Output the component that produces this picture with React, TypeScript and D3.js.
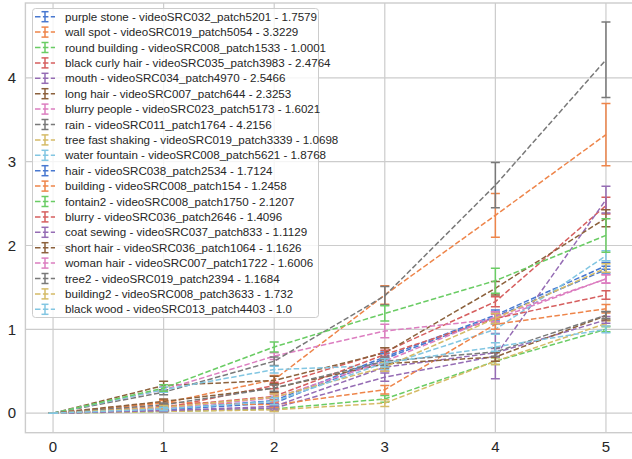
import React from "react";
import * as d3 from "d3";

const xValues = [0, 1, 2, 3, 4, 5];
const xTicks = [0, 1, 2, 3, 4, 5];
const yTicks = [0, 1, 2, 3, 4];

const labels = [
  "purple stone - videoSRC032_patch5201 - 1.7579",
  "wall spot - videoSRC019_patch5054 - 3.3229",
  "round building - videoSRC008_patch1533 - 1.0001",
  "black curly hair - videoSRC035_patch3983 - 2.4764",
  "mouth - videoSRC034_patch4970 - 2.5466",
  "long hair - videoSRC007_patch644 - 2.3253",
  "blurry people - videoSRC023_patch5173 - 1.6021",
  "rain - videoSRC011_patch1764 - 4.2156",
  "tree fast shaking - videoSRC019_patch3339 - 1.0698",
  "water fountain - videoSRC008_patch5621 - 1.8768",
  "hair - videoSRC038_patch2534 - 1.7124",
  "building - videoSRC008_patch154 - 1.2458",
  "fontain2 - videoSRC008_patch1750 - 2.1207",
  "blurry - videoSRC036_patch2646 - 1.4096",
  "coat sewing - videoSRC037_patch833 - 1.1129",
  "short hair - videoSRC036_patch1064 - 1.1626",
  "woman hair - videoSRC007_patch1722 - 1.6006",
  "tree2 - videoSRC019_patch2394 - 1.1684",
  "building2 - videoSRC008_patch3633 - 1.732",
  "black wood - videoSRC013_patch4403 - 1.0",
];

const means = [
  [0, 0.05, 0.15, 0.67, 1.17, 1.7579],
  [0, 0.12, 0.4, 1.41, 2.36, 3.3229],
  [0, 0.02, 0.05, 0.17, 0.62, 1.0001],
  [0, 0.06, 0.33, 0.73, 1.33, 2.4764],
  [0, 0.03, 0.06, 0.43, 0.68, 2.5466],
  [0, 0.33, 0.39, 0.72, 1.49, 2.3253],
  [0, 0.28, 0.68, 0.98, 1.12, 1.6021],
  [0, 0.25, 0.62, 1.4, 2.72, 4.2156],
  [0, 0.02, 0.04, 0.12, 0.62, 1.0698],
  [0, 0.28, 0.52, 0.57, 1.0, 1.8768],
  [0, 0.04, 0.12, 0.65, 1.15, 1.7124],
  [0, 0.13, 0.1, 0.28, 1.06, 1.2458],
  [0, 0.3, 0.79, 1.19, 1.58, 2.1207],
  [0, 0.08, 0.2, 0.7, 1.13, 1.4096],
  [0, 0.03, 0.08, 0.55, 0.72, 1.1129],
  [0, 0.14, 0.3, 0.59, 0.67, 1.1626],
  [0, 0.06, 0.18, 0.62, 1.15, 1.6006],
  [0, 0.1, 0.3, 0.62, 0.73, 1.1684],
  [0, 0.07, 0.19, 0.55, 1.13, 1.732],
  [0, 0.05, 0.14, 0.6, 0.79, 1.0],
];

const errs = [
  [0, 0.02, 0.04, 0.06, 0.06, 0.04],
  [0, 0.03, 0.05, 0.11, 0.26, 0.37],
  [0, 0.01, 0.02, 0.04, 0.04, 0.03],
  [0, 0.02, 0.04, 0.05, 0.06, 0.1],
  [0, 0.01, 0.03, 0.05, 0.27, 0.16],
  [0, 0.05, 0.05, 0.06, 0.08, 0.1],
  [0, 0.03, 0.04, 0.08, 0.06, 0.05],
  [0, 0.03, 0.05, 0.11, 0.27, 0.45],
  [0, 0.01, 0.02, 0.04, 0.04, 0.03],
  [0, 0.03, 0.04, 0.05, 0.06, 0.06],
  [0, 0.02, 0.04, 0.06, 0.06, 0.04],
  [0, 0.03, 0.03, 0.05, 0.06, 0.05],
  [0, 0.04, 0.06, 0.09, 0.15, 0.2],
  [0, 0.02, 0.04, 0.05, 0.06, 0.05],
  [0, 0.01, 0.03, 0.05, 0.05, 0.04],
  [0, 0.03, 0.05, 0.05, 0.05, 0.05],
  [0, 0.02, 0.04, 0.05, 0.06, 0.05],
  [0, 0.02, 0.04, 0.05, 0.05, 0.04],
  [0, 0.02, 0.04, 0.05, 0.06, 0.05],
  [0, 0.02, 0.04, 0.05, 0.05, 0.04],
];

const palette = [
  "#4878d0", "#ee854a", "#6acc64", "#d65f5f", "#956cb4",
  "#8c613c", "#dc7ec0", "#797979", "#d5bb67", "#82c6e2",
];

const W = 632;
const H = 459;
const FONT = "'Liberation Sans', Arial, sans-serif";

export default function App() {
  const x = d3.scaleLinear().domain([-0.25, 5.25]).range([25.4, 633.6]);
  const y = d3.scaleLinear().domain([-0.233, 4.893]).range([432.7, 3]);
  const [x0, x1] = x.range();
  const [yb, yt] = y.range();
  const line = d3
    .line<number>()
    .x((_, i) => x(xValues[i]))
    .y((d) => y(d));
  const cap = 4.5;
  const dash = "5.5,2.4";
  const legX = 32.5;
  const legY = 8.5;
  const rowH = 15.4;

  return (
    <svg width={W} height={H} style={{ position: "absolute", left: 0, top: 0, background: "#fff" }} fontFamily={FONT}>
      <rect x={0} y={0} width={W} height={H} fill="#fff" />
      <defs>
        <clipPath id="plotclip">
          <rect x={x0} y={yt} width={x1 - x0} height={yb - yt} />
        </clipPath>
      </defs>
      {xTicks.map((t) => (
        <line key={"gx" + t} x1={x(t)} x2={x(t)} y1={yt} y2={yb} stroke="#cccccc" strokeWidth={1.2} />
      ))}
      {yTicks.map((t) => (
        <line key={"gy" + t} x1={x0} x2={x1} y1={y(t)} y2={y(t)} stroke="#cccccc" strokeWidth={1.2} />
      ))}
      <rect x={x0} y={yt} width={x1 - x0} height={yb - yt} fill="none" stroke="#cccccc" strokeWidth={1.4} />
      <g clipPath="url(#plotclip)">
        {means.map((m, s) => {
          const c = palette[s % palette.length];
          return (
            <g key={"s" + s}>
              <path d={line(m) || ""} fill="none" stroke={c} strokeWidth={1.5} strokeDasharray={dash} />
              {m.map((v, i) => {
                const e = errs[s][i];
                const cx = x(xValues[i]);
                return (
                  <g key={i} stroke={c} strokeWidth={1.5}>
                    <line x1={cx} x2={cx} y1={y(v - e)} y2={y(v + e)} />
                    <line x1={cx - cap} x2={cx + cap} y1={y(v - e)} y2={y(v - e)} />
                    <line x1={cx - cap} x2={cx + cap} y1={y(v + e)} y2={y(v + e)} />
                  </g>
                );
              })}
            </g>
          );
        })}
      </g>
      {xTicks.map((t) => (
        <text key={"tx" + t} x={x(t)} y={452} textAnchor="middle" fontSize={15} fill="#262626">
          {t}
        </text>
      ))}
      {yTicks.map((t) => (
        <text key={"ty" + t} x={16} y={y(t) + 5.3} textAnchor="end" fontSize={15} fill="#262626">
          {t}
        </text>
      ))}
      <rect x={legX} y={legY} width={286} height={309} rx={3} fill="#fff" fillOpacity={0.8} stroke="#cccccc" strokeWidth={1} />
      {labels.map((lab, i) => {
        const c = palette[i % palette.length];
        const cy = legY + 8.2 + i * rowH;
        return (
          <g key={"l" + i}>
            <line x1={35} x2={55} y1={cy} y2={cy} stroke={c} strokeWidth={1.5} strokeDasharray={dash} />
            <g stroke={c} strokeWidth={1.5}>
              <line x1={45} x2={45} y1={cy - 5} y2={cy + 5} />
              <line x1={45 - 3.5} x2={45 + 3.5} y1={cy - 5} y2={cy - 5} />
              <line x1={45 - 3.5} x2={45 + 3.5} y1={cy + 5} y2={cy + 5} />
            </g>
            <text x={65} y={cy + 4} fontSize={11.6} fill="#262626">
              {lab}
            </text>
          </g>
        );
      })}
    </svg>
  );
}
